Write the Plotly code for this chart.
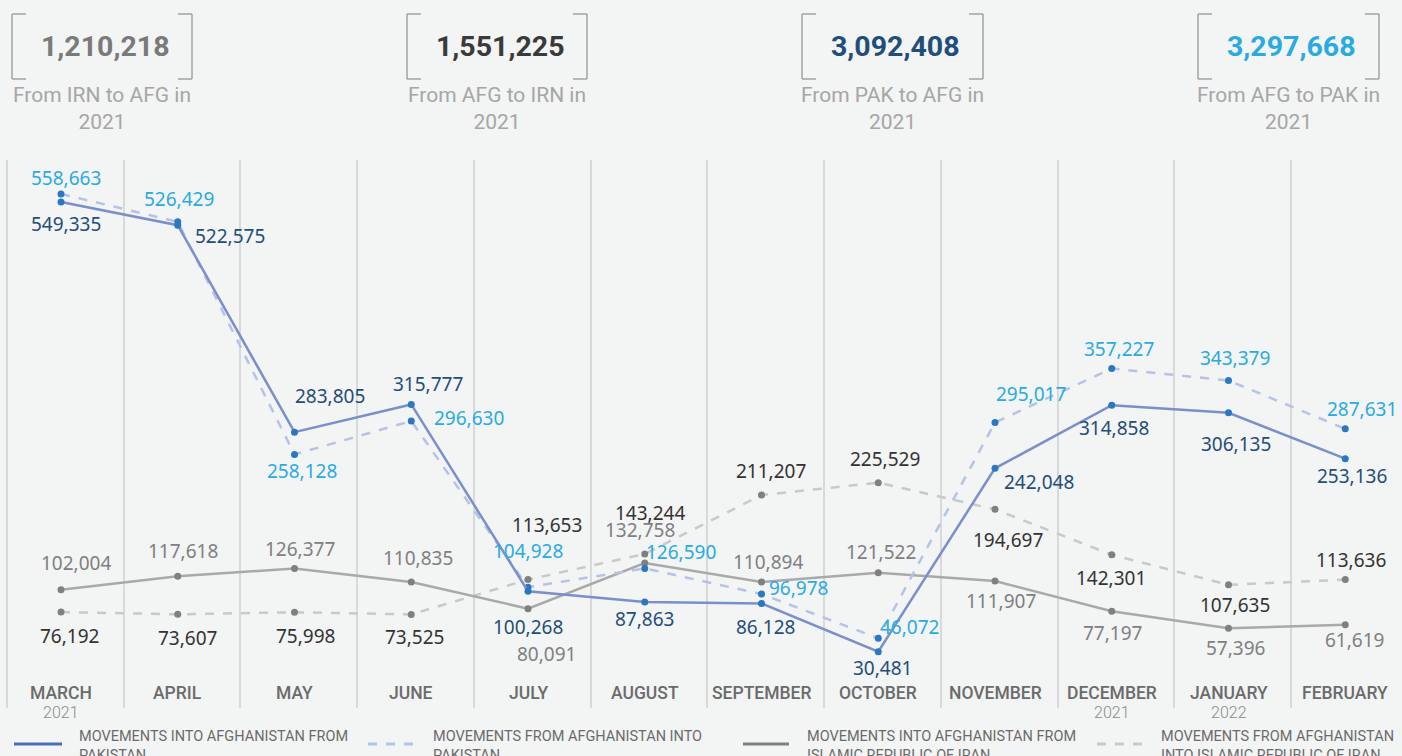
import plotly.graph_objects as go

months = ["MARCH", "APRIL", "MAY", "JUNE", "JULY", "AUGUST", "SEPTEMBER",
          "OCTOBER", "NOVEMBER", "DECEMBER", "JANUARY", "FEBRUARY"]
year_labels = {0: "2021", 9: "2021", 10: "2022"}

pak_to_afg = [549335, 522575, 283805, 315777, 100268, 87863, 86128, 30481, 242048, 314858, 306135, 253136]
afg_to_pak = [558663, 526429, 258128, 296630, 104928, 126590, 96978, 46072, 295017, 357227, 343379, 287631]
irn_to_afg = [102004, 117618, 126377, 110835, 80091, 132758, 110894, 121522, 111907, 77197, 57396, 61619]
afg_to_irn = [76192, 73607, 75998, 73525, 113653, 143244, 211207, 225529, 194697, 142301, 107635, 113636]

totals = ["1,210,218", "1,551,225", "3,092,408", "3,297,668"]
total_captions = ["From IRN to AFG in<br>2021", "From AFG to IRN in<br>2021",
                  "From PAK to AFG in<br>2021", "From AFG to PAK in<br>2021"]
legend_names = ["MOVEMENTS INTO AFGHANISTAN FROM<br>PAKISTAN",
                "MOVEMENTS FROM AFGHANISTAN INTO<br>PAKISTAN",
                "MOVEMENTS INTO AFGHANISTAN FROM<br>ISLAMIC REPUBLIC OF IRAN",
                "MOVEMENTS FROM AFGHANISTAN<br>INTO ISLAMIC REPUBLIC OF IRAN"]

W, H = 1402, 756
TOP, BOT = 160, 708
x = list(range(len(months)))

def px(p):
    return p / W

def py(p):
    return (BOT - p) / (BOT - TOP)

BG = "#f3f4f4"
fig = go.Figure()

series = [
    (afg_to_irn, dict(color="#c9c9c9", width=2.5, dash="dash"), "#808080"),
    (irn_to_afg, dict(color="#a9a9a9", width=2.5), "#808080"),
    (afg_to_pak, dict(color="#b5c3e6", width=2.5, dash="dash"), "#2a78c2"),
    (pak_to_afg, dict(color="#7b8fcb", width=2.5), "#2a78c2"),
]
for vals, line, mcol in series:
    fig.add_trace(go.Scatter(x=x, y=vals, mode="lines+markers", line=line,
                             marker=dict(color=mcol, size=7), showlegend=False,
                             hoverinfo="skip"))

# label offsets (dx, dy in pixels; dy positive = down)
offs = {
    "pak_to_afg": [(5, 22), (52, 11), (35, -36), (17, -20), (0, 36), (0, 17), (4, 24), (4, 16),
                   (44, 14), (2, 23), (7, 31), (7, 17)],
    "afg_to_pak": [(5, -16), (1, -23), (7, 17), (58, -3), (0, -36), (36, -16), (37, -6), (31, -11),
                   (36, -28), (7, -20), (6, -23), (17, -20)],
    "irn_to_afg": [(15, -27), (5, -25), (5, -20), (7, -24), (18, 45), (-5, -33), (6, -20), (3, -21),
                   (6, 20), (1, 22), (7, 20), (9, 15)],
    "afg_to_irn": [(8, 24), (10, 24), (11, 24), (3, 23), (19, -55), (5, -41), (9, -24), (7, -24),
                   (13, 31), (-1, 23), (6, 20), (6, -20)],
}
label_sets = [(pak_to_afg, offs["pak_to_afg"], "#1f4e79"),
              (afg_to_pak, offs["afg_to_pak"], "#29abe2"),
              (irn_to_afg, offs["irn_to_afg"], "#808080"),
              (afg_to_irn, offs["afg_to_irn"], "#333333")]
annotations = []
for vals, off, col in label_sets:
    for i, v in enumerate(vals):
        dx, dy = off[i]
        annotations.append(dict(x=i, y=v, xref="x", yref="y", text=f"{v:,}", showarrow=False,
                                xshift=dx, yshift=-dy, xanchor="center", yanchor="middle",
                                font=dict(family="Noto Sans", size=19, color=col)))

# month labels
for i, m in enumerate(months):
    annotations.append(dict(x=i, y=py(693), xref="x", yref="paper", text=m, showarrow=False,
                            xanchor="center", yanchor="middle",
                            font=dict(family="Roboto", size=17.5, color="#6b6b6b", weight=500)))
for i, yl in year_labels.items():
    annotations.append(dict(x=i, y=py(712), xref="x", yref="paper", text=yl, showarrow=False,
                            xanchor="center", yanchor="middle",
                            font=dict(family="Roboto", size=16, color="#8a8a8a", weight=300)))

# header boxes
shapes = []
boxes = [(12, 192), (407, 587), (802, 983), (1198, 1379)]
num_colors = ["#7a7a7a", "#3a3a3a", "#1f4e79", "#29abe2"]
for (l, r), t, cap, nc in zip(boxes, totals, total_captions, num_colors):
    top, bot, tk = 14, 79, 14
    bc = dict(color="#a3a3a3", width=1.5)
    for xa, xb, ya, yb in [(l, l, top, bot), (l, l + tk, top, top), (l, l + tk, bot, bot),
                           (r, r, top, bot), (r - tk, r, top, top), (r - tk, r, bot, bot)]:
        shapes.append(dict(type="line", xref="paper", yref="paper", x0=px(xa), x1=px(xb),
                           y0=py(ya), y1=py(yb), line=bc))
    c = (l + r) / 2
    annotations.append(dict(x=px(c + 3), y=py(46), xref="paper", yref="paper", text=f"<b>{t}</b>",
                            showarrow=False, xanchor="center", yanchor="middle",
                            font=dict(family="Roboto", size=28.5, color=nc)))
    annotations.append(dict(x=px(c), y=py(108), xref="paper", yref="paper", text=cap,
                            showarrow=False, xanchor="center", yanchor="middle",
                            font=dict(family="Roboto", size=21, color="#a6a6a6")))

# legend
leg = [(14, 62, dict(color="#4a70b8", width=3), 77),
       (368, 414, dict(color="#b5c3e6", width=3, dash="dash"), 431),
       (743, 789, dict(color="#808080", width=3), 805),
       (1097, 1143, dict(color="#c9c9c9", width=3, dash="dash"), 1159)]
for (a, b, ln, tx), name in zip(leg, legend_names):
    shapes.append(dict(type="line", xref="paper", yref="paper", x0=px(a), x1=px(b),
                       y0=py(744), y1=py(744), line=ln))
    annotations.append(dict(x=px(tx), y=py(746), xref="paper", yref="paper", text=name,
                            showarrow=False, xanchor="left", yanchor="middle", align="left",
                            font=dict(family="Roboto", size=14.5, color="#6b6b6b")))

fig.update_layout(
    width=W, height=H,
    margin=dict(l=0, r=0, t=TOP, b=H - BOT),
    paper_bgcolor=BG, plot_bgcolor=BG,
    xaxis=dict(range=[-61 / 116.75, (W - 61) / 116.75], tickvals=[i - 0.463 for i in x],
               showticklabels=False, showgrid=True, gridcolor="#d9d9d9", gridwidth=2,
               zeroline=False, showline=False, fixedrange=True),
    yaxis=dict(range=[-34500, 597800], showgrid=False, zeroline=False, showticklabels=False,
               showline=False, fixedrange=True),
    shapes=shapes, annotations=annotations, showlegend=False,
)
fig.write_html("out.html", config={"displayModeBar": False},
               post_script="document.body.style.margin='0px';document.body.style.overflow='hidden';")
